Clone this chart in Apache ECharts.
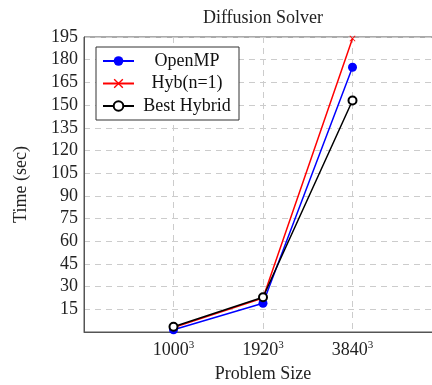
<!DOCTYPE html>
<html>
<head>
<meta charset="utf-8">
<script src="https://cdn.jsdelivr.net/npm/echarts@6/dist/echarts.min.js"></script>
<style>
  html, body { margin: 0; padding: 0; background: #fff; }
  #chart { width: 432px; height: 385px; }
</style>
</head>
<body>
<div id="chart"></div>
<script>
// problem sizes (x positions 1..3), labels shown as N^3
var sizes = ['1000', '1920', '3840'];
var xPos = [1, 2, 3];
var openmp = [1.5, 19, 175];
var hyb1 = [3, 22.5, 194];
var bestHybrid = [3.5, 23, 153];

var serif = '"Liberation Serif", "DejaVu Serif", serif';

function pairs(vals) {
  return xPos.map(function (x, i) { return [x, vals[i]]; });
}

var crossPath = 'path://M1,0L5,4L9,0L10,1L6,5L10,9L9,10L5,6L1,10L0,9L4,5L0,1Z';

var chart = echarts.init(document.getElementById('chart'));
chart.setOption({
  animation: false,
  title: {
    text: 'Diffusion Solver',
    left: 258,
    top: 4,
    textAlign: 'center',
    textStyle: { fontFamily: serif, fontSize: 18, fontWeight: 'normal', color: '#222' }
  },
  grid: {
    left: 84, top: 37, width: 358, bottom: 53,
    outerBoundsMode: 'none',
    containLabel: false,
    show: true, borderColor: '#555', borderWidth: 1
  },
  legend: {
    orient: 'vertical',
    left: 96,
    top: 47,
    padding: [5, 4, 5, 6],
    itemGap: 4.5,
    itemWidth: 31,
    itemHeight: 12,
    borderColor: '#333',
    borderWidth: 1,
    backgroundColor: '#fff',
    formatter: '{c|{name}}',
    textStyle: {
      fontFamily: serif, fontSize: 18, color: '#111',
      rich: { c: { fontFamily: serif, fontSize: 18, lineHeight: 18, color: '#111', width: 96, align: 'center' } }
    },
    data: ['OpenMP', 'Hyb(n=1)', 'Best Hybrid']
  },
  xAxis: {
    type: 'value',
    min: 0, max: 4, interval: 1,
    name: 'Problem Size',
    nameLocation: 'middle',
    nameGap: 33,
    nameTextStyle: { fontFamily: serif, fontSize: 18, color: '#222' },
    axisLine: { lineStyle: { color: '#555' } },
    axisTick: { show: false },
    axisLabel: {
      margin: 8,
      formatter: function (v) {
        var i = xPos.indexOf(v);
        return i < 0 ? '' : '{b|' + sizes[i] + '}{s|3}';
      },
      rich: {
        b: { fontFamily: serif, fontSize: 18, color: '#222' },
        s: { fontFamily: serif, fontSize: 11, color: '#222', verticalAlign: 'top', padding: [0, 0, 9, 0] }
      }
    },
    splitLine: { show: true, lineStyle: { color: '#ccc', type: [6, 5] } }
  },
  yAxis: {
    type: 'value',
    min: 0, max: 195, interval: 15,
    name: 'Time (sec)',
    nameLocation: 'middle',
    nameGap: 54,
    nameTextStyle: { fontFamily: serif, fontSize: 18, color: '#222' },
    axisLine: { show: true, lineStyle: { color: '#555' } },
    axisTick: { show: false },
    axisLabel: {
      margin: 6,
      fontFamily: serif, fontSize: 18, color: '#222',
      formatter: function (v) { return v === 0 ? '' : v; }
    },
    splitLine: { show: true, lineStyle: { color: '#ccc', type: [6, 5] } }
  },
  series: [
    {
      name: 'OpenMP', type: 'line', data: pairs(openmp),
      symbol: 'circle', symbolSize: 9,
      lineStyle: { color: '#0000ff', width: 1.5 },
      itemStyle: { color: '#0000ff' }
    },
    {
      name: 'Hyb(n=1)', type: 'line', data: pairs(hyb1),
      symbol: crossPath, symbolSize: 6,
      lineStyle: { color: '#ff0000', width: 1.5 },
      itemStyle: { color: '#ff0000' }
    },
    {
      name: 'Best Hybrid', type: 'line', data: pairs(bestHybrid),
      symbol: 'emptyCircle', symbolSize: 8,
      lineStyle: { color: '#000', width: 1.5 },
      itemStyle: { color: '#000', borderWidth: 1.5 }
    }
  ]
});
</script>
</body>
</html>
